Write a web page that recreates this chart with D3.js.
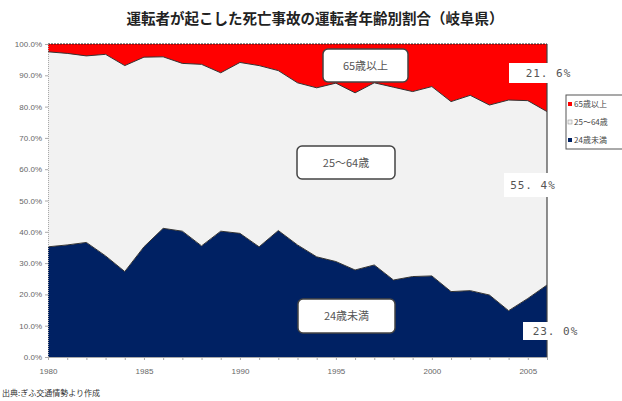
<!DOCTYPE html>
<html>
<head>
<meta charset="utf-8">
<script src="https://cdn.jsdelivr.net/npm/d3@7"></script>
<style>
  body { margin: 0; background: #fff; }
  svg { display: block; font-family: "Noto Sans CJK JP", "Noto Sans", sans-serif; }
</style>
</head>
<body>
<svg id="chart" width="622" height="401"></svg>
<script>
const YEARS = [1980, 1981, 1982, 1983, 1984, 1985, 1986, 1987, 1988, 1989, 1990, 1991, 1992,
  1993, 1994, 1995, 1996, 1997, 1998, 1999, 2000, 2001, 2002, 2003, 2004, 2005, 2006];
const UNDER_24 = [35.2, 35.8, 36.6, 32.3, 27.3, 35.2, 41.1, 40.2, 35.5, 40.2, 39.5, 35.2, 40.4,
  35.8, 32.0, 30.5, 27.8, 29.4, 24.6, 25.7, 25.9, 20.9, 21.2, 19.8, 14.8, 18.7, 23.0];
const AGE_25_64 = [62.3, 61.2, 59.6, 64.4, 65.8, 60.6, 54.8, 53.6, 58.0, 50.6, 54.6, 57.9, 51.1,
  51.8, 54.0, 57.0, 56.6, 58.2, 61.6, 59.1, 60.5, 60.7, 62.4, 60.7, 67.3, 63.2, 55.4];
const OVER_65 = [2.5, 3.0, 3.8, 3.3, 6.9, 4.2, 4.1, 6.2, 6.5, 9.2, 5.9, 6.9, 8.5,
  12.4, 14.0, 12.5, 15.6, 12.4, 13.8, 15.2, 13.6, 18.4, 16.4, 19.5, 17.9, 18.1, 21.6];
const KEYS = ['u24', 'mid', 'o65'];
const SERIES_NAMES = { u24: '24歳未満', mid: '25～64歳', o65: '65歳以上' };
const COLORS = { u24: '#002163', mid: '#f2f2f2', o65: '#ff0000' };
const Y_TICKS = [0, 10, 20, 30, 40, 50, 60, 70, 80, 90, 100];
const X_LABELS = [1980, 1985, 1990, 1995, 2000, 2005];
const TITLE = '運転者が起こした死亡事故の運転者年齢別割合（岐阜県）';
const SOURCE = '出典:ぎふ交通情勢より作成';

const rows = YEARS.map((y, i) => ({ year: y, u24: UNDER_24[i], mid: AGE_25_64[i], o65: OVER_65[i] }));

const svg = d3.select('#chart');
const x = d3.scaleLinear().domain([1980, 2006]).range([48, 547]);
const y = d3.scaleLinear().domain([0, 100]).range([357, 44]);

const stacked = d3.stack().keys(KEYS)(rows);

const area = d3.area()
  .x(d => x(d.data.year))
  .y0(d => y(d[0]))
  .y1(d => y(d[1]));

svg.append('g')
  .selectAll('path')
  .data(stacked)
  .join('path')
  .attr('d', area)
  .attr('fill', d => COLORS[d.key])
  .attr('stroke', 'none');

// boundary lines between series
const line = d3.line()
  .x(d => x(d.data.year))
  .y(d => y(d[1]));
svg.append('g')
  .selectAll('path')
  .data(stacked.slice(0, 2))
  .join('path')
  .attr('d', line)
  .attr('fill', 'none')
  .attr('stroke', '#333')
  .attr('stroke-width', 1);

// top dashed border
svg.append('line')
  .attr('x1', x(1980)).attr('x2', x(2006))
  .attr('y1', y(100)).attr('y2', y(100))
  .attr('stroke', '#222').attr('stroke-dasharray', '2,1');

// right border
svg.append('line')
  .attr('x1', x(2006)).attr('x2', x(2006))
  .attr('y1', y(100)).attr('y2', y(0))
  .attr('stroke', '#444').attr('stroke-width', 1.2);

// y axis
const yAxis = svg.append('g')
  .attr('transform', `translate(${x(1980)},0)`)
  .call(d3.axisLeft(y).tickValues(Y_TICKS).tickSize(3).tickFormat(d => d3.format('.1f')(d) + '%'));
yAxis.select('.domain').attr('stroke', '#aaa').attr('stroke-dasharray', '1,1');
yAxis.selectAll('.tick line').attr('stroke', '#aaa');
yAxis.selectAll('text').attr('fill', '#666').attr('font-size', 8).attr('font-family', 'Liberation Sans, sans-serif');

// x axis
const xAxis = svg.append('g')
  .attr('transform', `translate(0,${y(0)})`)
  .call(d3.axisBottom(x).tickValues(YEARS).tickSize(3)
    .tickFormat(d => X_LABELS.includes(d) ? d : ''));
xAxis.select('.domain').attr('stroke', '#aaa');
xAxis.selectAll('.tick line').attr('stroke', '#aaa');
xAxis.selectAll('text').attr('fill', '#666').attr('font-size', 8).attr('dy', '1.4em')
  .attr('font-family', 'Liberation Sans, sans-serif');

// title
svg.append('text')
  .attr('x', 315).attr('y', 24)
  .attr('text-anchor', 'middle')
  .attr('font-size', 14.5)
  .attr('font-weight', 'bold')
  .attr('fill', '#222')
  .text(TITLE);

// series label boxes
const boxes = [
  { key: 'o65', x0: 323, y0: 49, w: 85, h: 33 },
  { key: 'mid', x0: 297, y0: 146, w: 98, h: 33 },
  { key: 'u24', x0: 298, y0: 299, w: 97, h: 34 }
];
const boxG = svg.append('g').selectAll('g').data(boxes).join('g');
boxG.append('rect')
  .attr('x', d => d.x0).attr('y', d => d.y0)
  .attr('width', d => d.w).attr('height', d => d.h)
  .attr('rx', 5)
  .attr('fill', '#fff').attr('stroke', '#444').attr('stroke-width', 1.5);
boxG.append('text')
  .attr('x', d => d.x0 + d.w / 2).attr('y', d => d.y0 + d.h / 2 + 4)
  .attr('text-anchor', 'middle')
  .attr('font-size', 11).attr('fill', '#555')
  .text(d => SERIES_NAMES[d.key]);

// end value labels
const last = rows[rows.length - 1];
const endLabels = [
  { v: last.o65, x0: 509, y0: 63, w: 79, h: 20 },
  { v: last.mid, x0: 504, y0: 173, w: 58, h: 24 },
  { v: last.u24, x0: 523, y0: 322, w: 65, h: 18 }
];
const endG = svg.append('g').selectAll('g').data(endLabels).join('g');
endG.append('rect')
  .attr('x', d => d.x0).attr('y', d => d.y0)
  .attr('width', d => d.w).attr('height', d => d.h)
  .attr('fill', '#fff');
endG.append('text')
  .attr('x', d => d.x0 + d.w / 2).attr('y', d => d.y0 + d.h / 2 + 4)
  .attr('text-anchor', 'middle')
  .attr('font-size', 11).attr('fill', '#555')
  .attr('font-family', 'DejaVu Sans Mono, monospace')
  .attr('letter-spacing', 1)
  .text(d => d3.format('.1f')(d.v).replace('.', '. ') + '%');

// legend
const legend = svg.append('g');
legend.append('rect')
  .attr('x', 566).attr('y', 95).attr('width', 60).attr('height', 54)
  .attr('fill', '#fff').attr('stroke', '#555').attr('stroke-width', 1);
const legendKeys = ['o65', 'mid', 'u24'];
legendKeys.forEach((k, i) => {
  const ly = 105 + i * 18;
  legend.append('rect')
    .attr('x', 568).attr('y', ly - 3).attr('width', 4).attr('height', 4)
    .attr('fill', COLORS[k]).attr('stroke', k === 'mid' ? '#888' : 'none').attr('stroke-width', 0.5);
  legend.append('text')
    .attr('x', 574).attr('y', ly + 2)
    .attr('font-size', 8).attr('fill', '#444')
    .text(SERIES_NAMES[k]);
});

// source note
svg.append('text')
  .attr('x', 2).attr('y', 396)
  .attr('font-size', 8).attr('fill', '#333')
  .text(SOURCE);
</script>
</body>
</html>
